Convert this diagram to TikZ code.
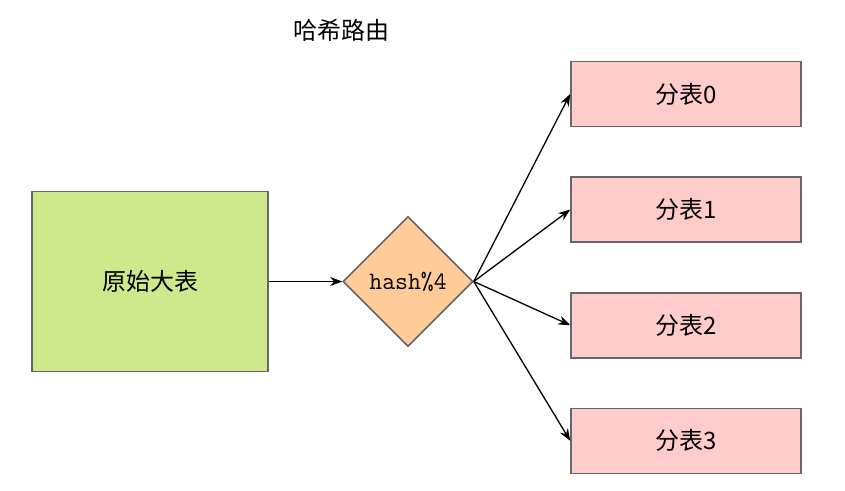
\documentclass[tikz,border=0pt]{standalone}
\usepackage{fontspec}
\newfontfamily\cjk{Noto Sans CJK SC}
\usetikzlibrary{positioning,shapes.geometric,arrows.meta}

\definecolor{srcgreen}{RGB}{205,233,140}
\definecolor{partpink}{RGB}{255,204,204}
\definecolor{hashorange}{RGB}{255,204,153}
\definecolor{edgegray}{RGB}{102,102,102}

\begin{document}
\begin{tikzpicture}[
    x=1pt, y=-1pt,
    tbl/.style={rectangle, draw=edgegray, line width=1.6pt, inner sep=0pt, font=\cjk\fontsize{24}{28}\selectfont},
    src/.style={tbl, fill=srcgreen, minimum width=236pt, minimum height=180pt},
    part/.style={tbl, fill=partpink, minimum width=230pt, minimum height=65pt},
    route/.style={diamond, aspect=1, draw=edgegray, line width=1.6pt, fill=hashorange, inner sep=0pt, minimum size=130pt, font=\ttfamily\fontsize{25}{28}\selectfont},
    flow/.style={-{Stealth[length=12pt,width=9pt]}, line width=1.3pt}
]
    \useasboundingbox (0,0) rectangle (845,490);

    % Title
    \node[font=\cjk\fontsize{24}{28}\selectfont] (title) at (341,30) {哈希路由};

    % Source table and hash
    \node[src] (big) at (150,281.5) {原始大表};
    \node[route] (hash) at (408,281.5) {hash\%4};

    % Sub tables
    \node[part] (t0) at (686,94) {分表0};
    \node[part, below=49pt of t0] (t1) {分表1};
    \node[part, below=49pt of t1] (t2) {分表2};
    \node[part, below=49pt of t2] (t3) {分表3};

    % Routing arrows
    \draw[flow] (big) -- (hash);
    \draw[flow] (hash.east) -- (t0.west);
    \draw[flow] (hash.east) -- (t1.west);
    \draw[flow] (hash.east) -- (t2.west);
    \draw[flow] (hash.east) -- (t3.west);

\end{tikzpicture}
\end{document}
